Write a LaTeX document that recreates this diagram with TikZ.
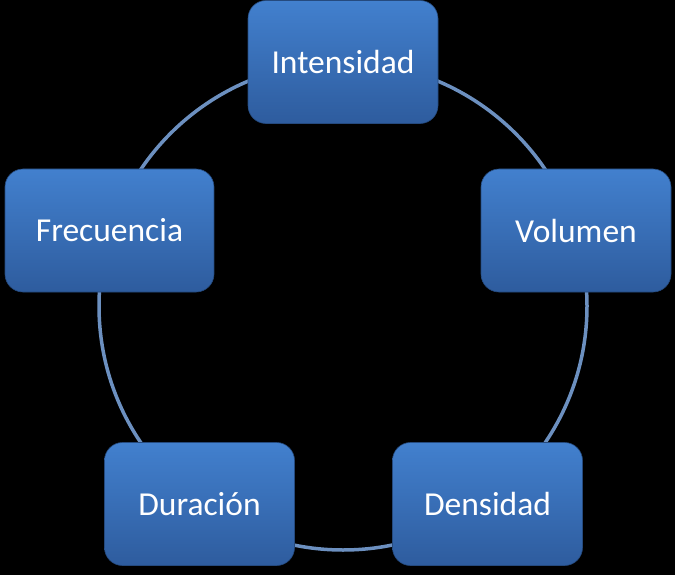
\documentclass[tikz,border=0pt]{standalone}
\usepackage{fontspec}
\setmainfont{Carlito}
\usetikzlibrary{shadings}
\definecolor{boxtop}{RGB}{66,128,206}
\definecolor{boxbot}{RGB}{46,92,158}
\definecolor{ringcol}{RGB}{108,144,192}
\begin{document}
\begin{tikzpicture}[x=1pt,y=-1pt,
  boxnode/.style={rounded corners=18pt, minimum width=190pt, minimum height=123pt,
    top color=boxtop, bottom color=boxbot, draw=boxbot!80!black, line width=0.6pt,
    text=white, font=\fontsize{33.5}{38}\selectfont, inner sep=0pt}]
\fill[black] (0,0) rectangle (675,575);
\useasboundingbox (0,0) rectangle (675,575);
\coordinate (c) at (343,306);
\draw[ringcol, line width=3.5pt] (c) circle[radius=244];
\node[boxnode] (int) at (343,62) {Intensidad};
\node[boxnode] (vol) at (576,230.5) {Volumen};
\node[boxnode] (den) at (487.5,504) {Densidad};
\node[boxnode] (dur) at (199.5,504) {Duración};
\node[boxnode, minimum width=209pt] (fre) at (109.5,230.5) {Frecuencia};
\end{tikzpicture}
\end{document}
